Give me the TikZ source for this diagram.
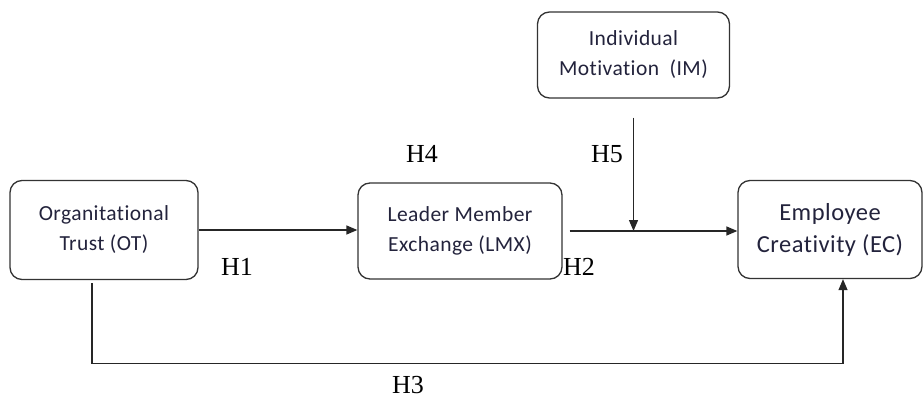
\documentclass[tikz,border=0pt]{standalone}
\usepackage{fontspec}
\setmainfont{Liberation Serif}
\newfontfamily\boxfont[Ligatures=NoCommon, LetterSpace=2]{Carlito}
\usetikzlibrary{positioning, arrows.meta}
\definecolor{ink}{RGB}{35,35,60}
\tikzset{
  % Set arrowhead
  >={Triangle[length=11pt, width=9pt]},
  % Variable box
  var/.style={draw=black!80, line width=1.3pt, rounded corners=12pt,
    fill=white, align=center, text=ink, inner sep=0pt,
    font=\boxfont\fontsize{21.5}{30}\selectfont},
  % Hypothesis label
  hyp/.style={font=\fontsize{26}{28}\selectfont, inner sep=0pt},
  % Links between variables
  link/.style={draw=black!85, line width=1.3pt},
}

\begin{document}
\begin{tikzpicture}[x=1pt, y=-1pt]
  \useasboundingbox (0,0) rectangle (923,398);

  \node[var, minimum width=188pt, minimum height=99pt] (OT) at (104,230)
    {Organitational\\Trust (OT)};
  \node[var, minimum width=204pt, minimum height=96pt] (LMX) at (460,231)
    {Leader Member\\Exchange (LMX)};
  \node[var, minimum width=192pt, minimum height=86pt] (IM) at (633.5,55)
    {Individual\\Motivation\ \ (IM)};
  \node[var, minimum width=184pt, minimum height=98pt,
    font=\boxfont\fontsize{24.5}{32}\selectfont] (EC) at (830,229.5)
    {Employee\\Creativity (EC)};

  \coordinate (join) at (IM.south |- LMX.east);

  \draw[link, ->] (OT.east) -- (OT.east -| LMX.west);
  \draw[link, ->] ([xshift=7pt]LMX.east) -- (LMX.east -| EC.west);
  \draw[link, ->] ([yshift=-19pt]IM.south) -- (join);
  \draw[link, ->] ([xshift=-12pt, yshift=-3pt]OT.south) -- ++(0,80)
    -| ([xshift=13pt]EC.south);

  \node[hyp] (h1) at (237,267) {H1};
  \node[hyp] (h2) at (579,267) {H2};
  \node[hyp] (h3) at (408,385) {H3};
  \node[hyp] (h4) at (422,154) {H4};
  \node[hyp] (h5) at (607,154) {H5};
\end{tikzpicture}
\end{document}
